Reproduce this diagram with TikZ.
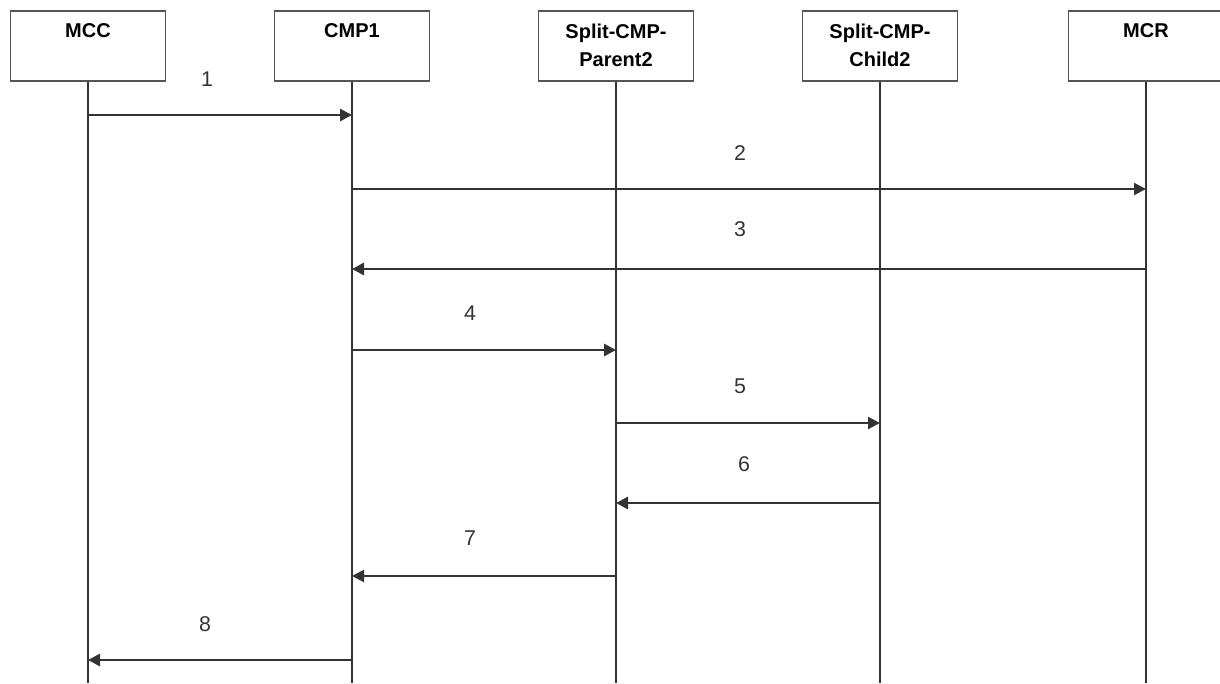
\documentclass[tikz,border=0pt]{standalone}
\usepackage{fontspec}
\setmainfont{Liberation Sans}
\usetikzlibrary{arrows.meta}
\definecolor{ln}{HTML}{333333}
\definecolor{bx}{HTML}{555555}
\begin{document}
\begin{tikzpicture}[x=0.75pt,y=-0.75pt,
  actor/.style={draw=bx,line width=1.2pt,fill=white,minimum width=116.25pt,minimum height=52.5pt,anchor=north,inner sep=0pt},
  atext/.style={font=\fontsize{15}{21}\selectfont\bfseries,align=center,anchor=north},
  life/.style={draw=ln,line width=2pt},
  msg/.style={draw=ln,line width=2.2pt,-{Triangle[length=9pt,width=9pt]}},
  thin/.style={line width=1.6pt},
  num/.style={font=\fontsize{16}{18}\selectfont,text=black!80}]
\useasboundingbox (0,0) rectangle (1220,683);
% actor boxes
\foreach \n/\x in {mcc/88,cmp/352,par/616,chi/880,mcr/1146}{
  \node[actor] (\n) at (\x,10) {};
  \coordinate (\n b) at (\x,683);
}
\node[atext] (tmcc) at (88,19) {MCC};
\node[atext] (tcmp) at (352,19) {CMP1};
\node[atext] (tpar) at (616,19) {Split-CMP-\\Parent2};
\node[atext] (tchi) at (880,19) {Split-CMP-\\Child2};
\node[atext] (tmcr) at (1146,19) {MCR};
% lifelines
\foreach \n in {mcc,cmp,par,chi,mcr}{
  \draw[life] (\n.south) -- (\n b);
}
% messages
\foreach \n/\y in {1/115,2/189,3/269,4/350,5/423,6/503,7/576,8/660}{
  \foreach \a in {mcc,cmp,par,chi,mcr}{
    \coordinate (\a\n) at (\a b |- 0,\y);
  }
}
\draw[msg] (mcc1) -- (cmp1);
\draw[msg,thin] (cmp2) -- (mcr2);
\draw[msg] (mcr3) -- (cmp3);
\draw[msg] (cmp4) -- (par4);
\draw[msg,thin] (par5) -- (chi5);
\draw[msg] (chi6) -- (par6);
\draw[msg,thin] (par7) -- (cmp7);
\draw[msg] (cmp8) -- (mcc8);
% labels
\node[num] (l1) at (207,79) {1};
\node[num] (l2) at (740,153) {2};
\node[num] (l3) at (740,229) {3};
\node[num] (l4) at (470,313) {4};
\node[num] (l5) at (740,386) {5};
\node[num] (l6) at (744,464) {6};
\node[num] (l7) at (470,538) {7};
\node[num] (l8) at (205,624) {8};
\end{tikzpicture}
\end{document}
